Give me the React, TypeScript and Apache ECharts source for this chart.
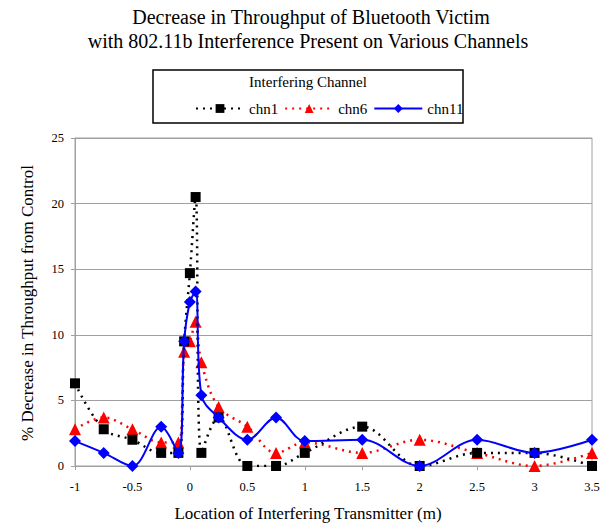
import React, { useEffect, useRef } from "react";
import * as echarts from "echarts";

const xs = [-1, -0.75, -0.5, -0.25, -0.1, -0.05, 0, 0.05, 0.1, 0.25, 0.5, 0.75, 1, 1.5, 2, 2.5, 3, 3.5];
const chn1 = [6.3, 2.8, 2.0, 1.0, 1.0, 9.5, 14.7, 20.5, 1.0, 3.7, 0, 0, 1.0, 3.0, 0, 1.0, 1.0, 0];
const chn6 = [2.8, 3.7, 2.8, 1.8, 1.8, 8.7, 9.5, 11.0, 7.9, 4.5, 3.0, 1.0, 1.8, 1.0, 2.0, 1.0, 0, 1.0];
const chn11 = [1.9, 1.0, 0, 3.0, 1.0, 9.5, 12.5, 13.3, 5.4, 3.7, 2.0, 3.7, 1.9, 2.0, 0, 2.0, 1.0, 2.0];
const seriesNames = ["chn1", "chn6", "chn11"];
const titleLines = [
  "Decrease in Throughput of Bluetooth Victim",
  "with 802.11b Interference Present on Various Channels",
];
const legendTitle = "Interfering Channel";
const xName = "Location of Interfering Transmitter (m)";
const yName = "% Decrease in Throughput from Control";

const FONT = "'Liberation Serif', 'Times New Roman', serif";

export default function App() {
  const ref = useRef<HTMLDivElement>(null);
  useEffect(() => {
    const chart = echarts.init(ref.current!, null, { renderer: "svg" });
    const pair = (ys: number[]) => xs.map((x, i) => [x, ys[i]]);
    const txt = (text: string, x: number, y: number, size: number, extra: any = {}) => ({
      type: "text",
      x,
      y,
      style: { text, fontFamily: FONT, fontSize: size, fill: "#000", textAlign: "center", textVerticalAlign: "middle" },
      z: 10,
      ...extra,
    });
    chart.setOption({
      animation: false,
      backgroundColor: "#fff",
      textStyle: { fontFamily: FONT },
      graphic: [
        txt(titleLines[0], 311, 17, 20),
        txt(titleLines[1], 308, 41, 20),
        { type: "rect", shape: { x: 153, y: 70, width: 310, height: 53 }, style: { fill: "#fff", stroke: "#000", lineWidth: 1.5 }, z: 0 },
        txt(legendTitle, 308, 82, 15),
        txt(xName, 308, 513, 17),
        txt(yName, 27, 303, 17, { rotation: Math.PI / 2 }),
      ],
      legend: {
        data: seriesNames,
        left: 195,
        top: 101,
        padding: 0,
        itemWidth: 48,
        itemHeight: 11,
        itemGap: 6,
        textStyle: { fontFamily: FONT, fontSize: 15, color: "#000" },
        z: 5,
      },
      grid: {
        left: 75,
        right: 8,
        top: 138,
        bottom: 57,
        show: true,
        borderColor: "#a0a0a0",
        borderWidth: 1,
        outerBoundsMode: "none",
        containLabel: false,
      },
      xAxis: {
        type: "value",
        min: -1,
        max: 3.5,
        interval: 0.5,
        axisLine: { onZero: false, lineStyle: { color: "#a0a0a0" } },
        axisTick: { show: true, length: 4, lineStyle: { color: "#a0a0a0" } },
        splitLine: { show: false },
        axisLabel: { fontFamily: FONT, fontSize: 12.5, color: "#000", margin: 14 },
      },
      yAxis: {
        type: "value",
        min: 0,
        max: 25,
        interval: 5,
        axisLine: { show: true, onZero: false, lineStyle: { color: "#a0a0a0" } },
        axisTick: { show: true, length: 4, lineStyle: { color: "#a0a0a0" } },
        splitLine: { lineStyle: { color: "#a0a0a0" } },
        axisLabel: { fontFamily: FONT, fontSize: 12.5, color: "#000", margin: 11 },
      },
      series: [
        {
          name: "chn1",
          type: "line",
          data: pair(chn1),
          smooth: 0.35,
          symbol: "rect",
          symbolSize: 10,
          itemStyle: { color: "#000" },
          lineStyle: { color: "#000", width: 2.5, type: [2, 5] },
          z: 3,
        },
        {
          name: "chn6",
          type: "line",
          data: pair(chn6),
          smooth: 0.35,
          symbol: "triangle",
          symbolSize: 12,
          itemStyle: { color: "#ff0000" },
          lineStyle: { color: "#ff0000", width: 2.5, type: [2, 5] },
          z: 2,
        },
        {
          name: "chn11",
          type: "line",
          data: pair(chn11),
          smooth: 0.35,
          symbol: "diamond",
          symbolSize: 12,
          itemStyle: { color: "#0000ff" },
          lineStyle: { color: "#0000ff", width: 2 },
          z: 4,
        },
      ],
    });
    return () => chart.dispose();
  }, []);
  return <div ref={ref} style={{ width: 600, height: 523, position: "absolute", left: 0, top: 0 }} />;
}
